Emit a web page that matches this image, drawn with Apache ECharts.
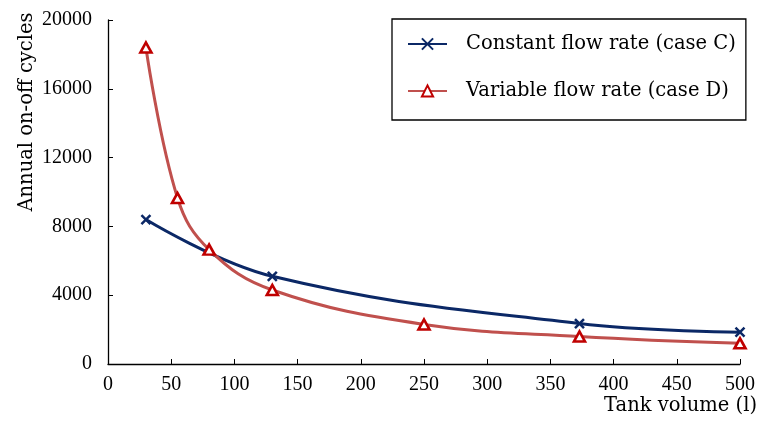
<!DOCTYPE html>
<html>
<head>
<meta charset="utf-8">
<script src="https://cdn.jsdelivr.net/npm/echarts@6/dist/echarts.min.js"></script>
<style>
  html, body { margin: 0; padding: 0; background: #fff; }
  #chart { width: 758px; height: 423px; }
</style>
</head>
<body>
<div id="chart"></div>
<script>
// Tank volume (l) and annual on-off cycles for the two flow-rate cases
const volumeC = [30, 130, 373, 500];
const cyclesC = [8400, 5100, 2350, 1850];
const volumeD = [30, 55, 80, 130, 250, 373, 500];
const cyclesD = [18400, 9650, 6650, 4300, 2300, 1600, 1200];

const nameC = 'Constant flow rate (case C)';
const nameD = 'Variable flow rate (case D)';
const xTitle = 'Tank volume (l)';
const yTitle = 'Annual on-off cycles';

const NUM_FONT = '"Liberation Serif", "DejaVu Serif", serif';
const TEXT_FONT = '"DejaVu Serif", "Liberation Serif", serif';
const TEXT_SIZE = 19.5;
const NAVY = '#0b2866';
const RED_LINE = '#c0504d';
const RED_MARK = '#c00000';

const pairs = (xs, ys) => xs.map((x, i) => [x, ys[i]]);

const chart = echarts.init(document.getElementById('chart'), null, { renderer: 'canvas' });

chart.setOption({
  animation: false,
  backgroundColor: '#fff',
  grid: { left: 108, top: 20, width: 632, height: 344, containLabel: false },
  xAxis: {
    type: 'value', min: 0, max: 500, interval: 50,
    axisLine: { show: true, lineStyle: { color: '#000', width: 1.3 } },
    axisTick: { show: true, inside: true, length: 5, lineStyle: { color: '#000', width: 1 } },
    axisLabel: { color: '#000', fontFamily: NUM_FONT, fontSize: 20, margin: 11 },
    splitLine: { show: false }
  },
  yAxis: {
    type: 'value', min: 0, max: 20000, interval: 4000,
    axisLine: { show: true, lineStyle: { color: '#000', width: 1.3 } },
    axisTick: { show: true, inside: true, length: 5, lineStyle: { color: '#000', width: 1 } },
    axisLabel: { color: '#000', fontFamily: NUM_FONT, fontSize: 20, margin: 16, formatter: v => String(v) },
    splitLine: { show: false }
  },
  legend: {
    orient: 'vertical',
    left: 392, top: 19,
    padding: [15, 10, 19, 15],
    itemGap: 27,
    itemWidth: 39, itemHeight: 14,
    borderColor: '#000', borderWidth: 1.3,
    textStyle: { color: '#000', fontFamily: TEXT_FONT, fontSize: TEXT_SIZE, padding: [0, 0, 0, 14] },
    data: [nameC, nameD]
  },
  graphic: [
    {
      type: 'text', x: 27, y: 112, rotation: Math.PI / 2,
      style: { text: yTitle, fill: '#000', font: TEXT_SIZE + 'px ' + TEXT_FONT, align: 'center', verticalAlign: 'middle' }
    },
    {
      type: 'text', x: 757, y: 406,
      style: { text: xTitle, fill: '#000', font: TEXT_SIZE + 'px ' + TEXT_FONT, align: 'right', verticalAlign: 'middle' }
    }
  ],
  series: [
    {
      name: nameC, type: 'line', smooth: 0.4,
      data: pairs(volumeC, cyclesC),
      lineStyle: { color: NAVY, width: 3 },
      symbol: 'path://M0,0L10,10M10,0L0,10',
      symbolSize: 9,
      itemStyle: { color: NAVY, borderColor: NAVY, borderWidth: 2.5 },
      z: 2
    },
    {
      name: nameD, type: 'line', smooth: 0.4,
      data: pairs(volumeD, cyclesD),
      lineStyle: { color: RED_LINE, width: 3 },
      symbol: 'triangle',
      symbolSize: [11, 10],
      showAllSymbol: true,
      itemStyle: { color: '#fff', borderColor: RED_MARK, borderWidth: 2.6 },
      z: 3
    }
  ]
});
</script>
</body>
</html>
